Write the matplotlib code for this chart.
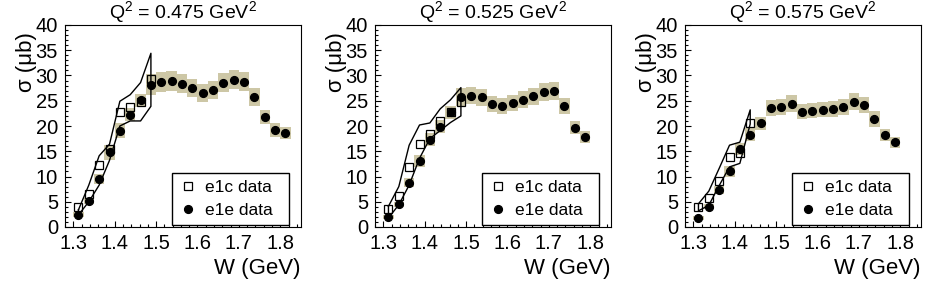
import matplotlib
matplotlib.use("Agg")
import matplotlib.pyplot as plt
from matplotlib.ticker import MultipleLocator
from matplotlib.lines import Line2D

plt.rcParams['font.family'] = ['Liberation Sans', 'DejaVu Sans']
plt.rcParams['mathtext.fontset'] = 'custom'
plt.rcParams['mathtext.rm'] = 'Liberation Sans'
plt.rcParams['mathtext.it'] = 'Liberation Sans:italic'

# ---------------- data ----------------
titles = ["Q$^2$ = 0.475 GeV$^2$", "Q$^2$ = 0.525 GeV$^2$", "Q$^2$ = 0.575 GeV$^2$"]

w_e1e_1 = [1.3125, 1.3375, 1.3625, 1.3875, 1.4125, 1.4375, 1.4625, 1.4875, 1.5125, 1.5375,
           1.5625, 1.5875, 1.6125, 1.6375, 1.6625, 1.6875, 1.7125, 1.7375, 1.7625, 1.7875, 1.8125]
s_e1e_1 = [2.4, 5.1, 9.5, 14.8, 19.1, 22.2, 25.1, 28.2, 28.7, 28.9,
           28.4, 27.6, 26.5, 27.2, 28.6, 29.2, 28.8, 25.8, 21.8, 19.2, 18.6]
sys_e1e_1 = [0.5, 0.6, 1.0, 1.5, 1.5, 1.3, 1.3, 2.0, 1.9, 1.9,
             1.9, 1.8, 1.8, 1.8, 1.9, 1.9, 1.9, 1.8, 1.4, 1.3, 1.2]

w_e1e_2 = [1.3125, 1.3375, 1.3625, 1.3875, 1.4125, 1.4375, 1.4625, 1.4875, 1.5125, 1.5375,
           1.5625, 1.5875, 1.6125, 1.6375, 1.6625, 1.6875, 1.7125, 1.7375, 1.7625, 1.7875]
s_e1e_2 = [2.0, 4.5, 8.8, 13.0, 17.3, 19.9, 22.7, 25.8, 26.0, 25.7,
           24.3, 24.0, 24.5, 25.2, 25.9, 26.8, 27.0, 24.0, 19.7, 17.8]
sys_e1e_2 = [0.4, 0.5, 0.9, 1.2, 1.3, 1.3, 1.3, 1.8, 1.7, 1.7,
             1.6, 1.6, 1.6, 1.7, 1.7, 1.8, 1.8, 1.6, 1.3, 1.2]

w_e1e_3 = [1.3125, 1.3375, 1.3625, 1.3875, 1.4125, 1.4375, 1.4625, 1.4875, 1.5125, 1.5375,
           1.5625, 1.5875, 1.6125, 1.6375, 1.6625, 1.6875, 1.7125, 1.7375, 1.7625, 1.7875]
s_e1e_3 = [1.7, 4.0, 7.4, 11.0, 15.5, 18.3, 20.5, 23.5, 23.8, 24.4,
           22.8, 23.0, 23.2, 23.4, 23.8, 24.8, 24.2, 21.4, 18.2, 16.8]
sys_e1e_3 = [0.4, 0.5, 0.8, 1.0, 1.2, 1.3, 1.3, 1.6, 1.6, 1.7,
             1.5, 1.5, 1.5, 1.6, 1.6, 1.7, 1.6, 1.5, 1.2, 1.1]

w_e1c_1 = [1.3125, 1.3375, 1.3625, 1.3875, 1.4125, 1.4375, 1.4625, 1.4875]
s_e1c_1 = [4.0, 6.5, 12.3, 15.5, 22.7, 23.7, 24.7, 29.4]
w_e1c_2 = [1.3125, 1.3375, 1.3625, 1.3875, 1.4125, 1.4375, 1.4625, 1.4875]
s_e1c_2 = [3.5, 6.1, 11.9, 16.4, 18.5, 20.9, 22.7, 24.8]
w_e1c_3 = [1.3125, 1.3375, 1.3625, 1.3875, 1.4125, 1.4375]
s_e1c_3 = [3.9, 5.7, 9.1, 13.8, 14.7, 20.5]

# model band (upper and lower curves)
w_mod_1 = [1.3125, 1.3375, 1.3625, 1.3875, 1.4125, 1.4375, 1.4625, 1.4875]
up_mod_1 = [3.4, 8.3, 14.1, 16.4, 24.9, 26.2, 28.6, 34.4]
lo_mod_1 = [2.4, 5.0, 8.3, 13.2, 20.0, 21.0, 21.0, 23.9]
w_mod_2 = [1.3125, 1.3375, 1.3625, 1.3875, 1.4125, 1.4375, 1.4625, 1.4875]
up_mod_2 = [4.1, 8.0, 16.2, 20.2, 20.6, 23.4, 25.2, 27.6]
lo_mod_2 = [1.8, 4.4, 8.3, 13.6, 17.5, 19.1, 20.7, 22.0]
w_mod_3 = [1.3125, 1.3375, 1.3625, 1.3875, 1.4125, 1.4375]
up_mod_3 = [4.6, 7.1, 11.6, 16.2, 16.8, 23.2]
lo_mod_3 = [3.2, 4.3, 8.2, 11.9, 12.6, 20.4]

panels = [
    (w_e1e_1, s_e1e_1, sys_e1e_1, w_e1c_1, s_e1c_1, w_mod_1, up_mod_1, lo_mod_1),
    (w_e1e_2, s_e1e_2, sys_e1e_2, w_e1c_2, s_e1c_2, w_mod_2, up_mod_2, lo_mod_2),
    (w_e1e_3, s_e1e_3, sys_e1e_3, w_e1c_3, s_e1c_3, w_mod_3, up_mod_3, lo_mod_3),
]

band_color = '#cdc7a6'
W, H = 937, 281
fig = plt.figure(figsize=(W / 100, H / 100), dpi=100)

lefts = [65, 375, 685]
ax_w, top, bot = 236, 25, 227

for i, (we, se, sy, wc, sc, wm, um, lm) in enumerate(panels):
    ax = fig.add_axes([lefts[i] / W, (H - bot) / H, ax_w / W, (bot - top) / H])
    # systematic boxes
    ax.bar(we, [2 * e for e in sy], bottom=[v - e for v, e in zip(se, sy)], width=0.025,
           color=band_color, edgecolor='none', zorder=1)
    # model band outline
    xs = list(wm) + list(wm[::-1]) + [wm[0]]
    ys = list(um) + list(lm[::-1]) + [um[0]]
    ax.plot(xs, ys, color='black', lw=1.0, zorder=2)
    ax.plot(we, se, 'o', color='black', ms=5.6, zorder=3)
    ax.plot(wc, sc, 's', mfc='none', mec='black', mew=0.9, ms=6.2, zorder=4)

    ax.set_xlim(1.28, 1.85)
    ax.set_ylim(0, 40)
    ax.xaxis.set_major_locator(MultipleLocator(0.1))
    ax.xaxis.set_minor_locator(MultipleLocator(0.02))
    ax.yaxis.set_major_locator(MultipleLocator(5))
    ax.yaxis.set_minor_locator(MultipleLocator(1))
    ax.set_xticks([1.3, 1.4, 1.5, 1.6, 1.7, 1.8])
    ax.set_xticklabels(['1.3', '1.4', '1.5', '1.6', '1.7', '1.8'])
    ax.tick_params(axis='both', which='both', direction='in', top=False, right=False,
                   labelsize=14.5, width=0.8)
    ax.tick_params(axis='x', which='both', pad=5)
    ax.tick_params(axis='y', which='both', pad=5)
    ax.tick_params(axis='x', which='major', length=4)
    ax.tick_params(axis='x', which='minor', length=2)
    ax.tick_params(axis='y', which='major', length=4.5)
    ax.tick_params(axis='y', which='minor', length=2.3)
    for sp in ax.spines.values():
        sp.set_linewidth(0.8)

    ax.set_xlabel('W (GeV)', fontsize=16, loc='right')
    ax.xaxis.set_label_coords(1.0, -0.155)
    ax.set_ylabel('σ (μb)', fontsize=16, loc='top')
    ax.yaxis.set_label_coords(-0.12, 0.965)
    ax.text(0.5, 1.062, titles[i], transform=ax.transAxes, ha='center', va='center',
            fontsize=14)

    handles = [Line2D([], [], marker='s', ls='none', mfc='none', mec='black', mew=0.9, ms=6.2),
               Line2D([], [], marker='o', ls='none', color='black', ms=5.6)]
    leg = ax.legend(handles, ['e1c data', 'e1e data'], loc='lower left',
                    bbox_to_anchor=(0.452, 0.012, 0.497, 0.25), mode='expand',
                    borderaxespad=0, fontsize=12.5, frameon=True, fancybox=False,
                    edgecolor='black', framealpha=1, borderpad=0.35, labelspacing=0.5,
                    handlelength=1.2, handletextpad=0.35)
    leg.get_frame().set_linewidth(1.0)

fig.savefig('out.png', dpi=100)
